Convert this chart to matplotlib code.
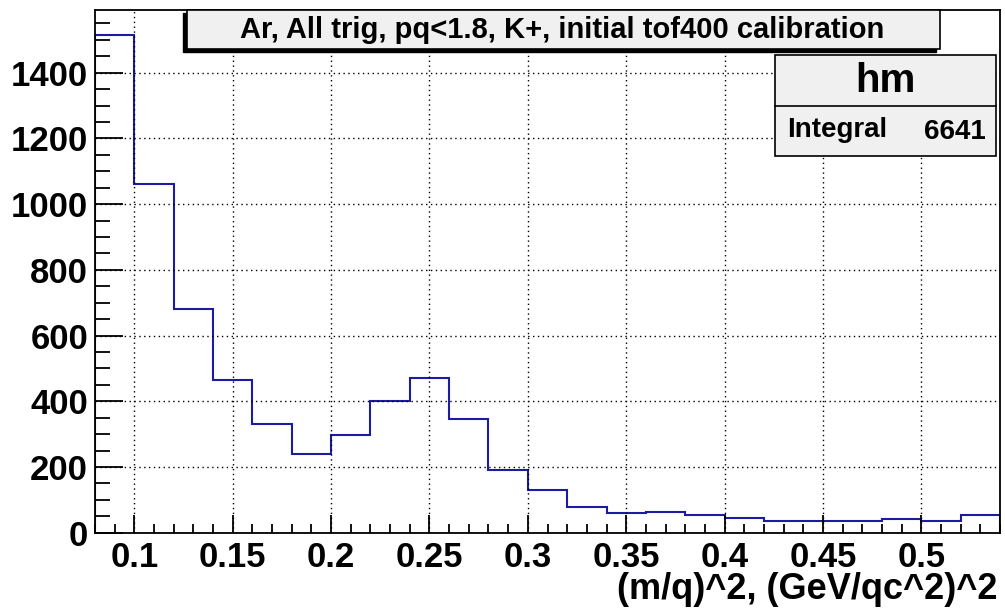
import matplotlib
matplotlib.use("Agg")
import matplotlib.pyplot as plt
from matplotlib.patches import Rectangle
from matplotlib.ticker import MultipleLocator
import numpy as np

plt.rcParams['font.family'] = ['Liberation Sans', 'DejaVu Sans']
plt.rcParams['font.weight'] = 'bold'

# histogram contents, 23 bins of width 0.02 from 0.08 to 0.54
edges = np.linspace(0.08, 0.54, 24)
counts = [1515, 1060, 680, 465, 330, 240, 298, 400, 470, 347, 191, 129,
          77, 59, 63, 55, 46, 37, 37, 37, 41, 37, 55]
title = "Ar, All trig, pq<1.8, K+, initial tof400 calibration"
hist_name = "hm"
integral = 6641
xlabel = "(m/q)^2, (GeV/qc^2)^2"

W, H = 1005, 611
fig = plt.figure(figsize=(W / 100, H / 100), dpi=100)
ax = fig.add_axes([95 / W, 1 - 532.7 / H, 905 / W, 522.7 / H])

ax.stairs(counts, edges, color='#1c1ca0', linewidth=1.5)
ax.set_xlim(edges[0], edges[-1])
ax.set_ylim(0, 1.05 * max(counts))

ax.xaxis.set_major_locator(MultipleLocator(0.05))
ax.xaxis.set_minor_locator(MultipleLocator(0.01))
ax.yaxis.set_major_locator(MultipleLocator(200))
ax.yaxis.set_minor_locator(MultipleLocator(50))
ax.xaxis.set_major_formatter(plt.FuncFormatter(lambda v, p: ('%g' % round(v, 3))))

ax.tick_params(axis='both', which='both', direction='in', top=False, right=False,
               width=1.3, labelsize=25)
ax.tick_params(axis='y', which='major', length=20, pad=5)
ax.tick_params(axis='y', which='minor', length=11)
ax.tick_params(axis='x', which='major', length=13, pad=6)
ax.tick_params(axis='x', which='minor', length=6.5)
for lab in ax.get_xticklabels() + ax.get_yticklabels():
    lab.set_fontweight('bold')
for sp in ax.spines.values():
    sp.set_linewidth(1.3)

ax.grid(True, which='major', color='black', linestyle=(0, (1, 2.5)), linewidth=1)
ax.set_axisbelow(False)

ax.set_xlabel(xlabel, fontsize=26, fontweight='bold', ha='right')
ax.xaxis.set_label_coords(0.997, -0.076)


def box(x0, y0, x1, y1, **kw):
    # pixel coords (from top-left) -> figure fraction
    return Rectangle((x0 / W, 1 - y1 / H), (x1 - x0) / W, (y1 - y0) / H,
                     transform=fig.transFigure, **kw)


# title pave with shadow
fig.patches.append(box(183, 13, 936, 52, facecolor='black', edgecolor='black', zorder=5))
fig.patches.append(box(187, 10, 940, 49, facecolor='#f0f0f0', edgecolor='black',
                       linewidth=1.2, zorder=6))
fig.text(562 / W, 1 - 30 / H, title, ha='center', va='center', fontsize=21,
         fontweight='bold', zorder=7)

# stats box
fig.patches.append(box(775, 55, 996, 156, facecolor='#f0f0f0', edgecolor='black',
                       linewidth=1.2, zorder=6))
fig.lines.append(plt.Line2D([775 / W, 996 / W], [1 - 106 / H, 1 - 106 / H],
                            transform=fig.transFigure, color='black', linewidth=1.2, zorder=7))
fig.text(885 / W, 1 - 81 / H, hist_name, ha='center', va='center', fontsize=29,
         fontweight='bold', zorder=7)
fig.text(787 / W, 1 - 130 / H, "Integral", ha='left', va='center', fontsize=20,
         fontweight='bold', zorder=7)
fig.text(986 / W, 1 - 132 / H, str(integral), ha='right', va='center', fontsize=20,
         fontweight='bold', zorder=7)

fig.savefig("out.png", dpi=100)
